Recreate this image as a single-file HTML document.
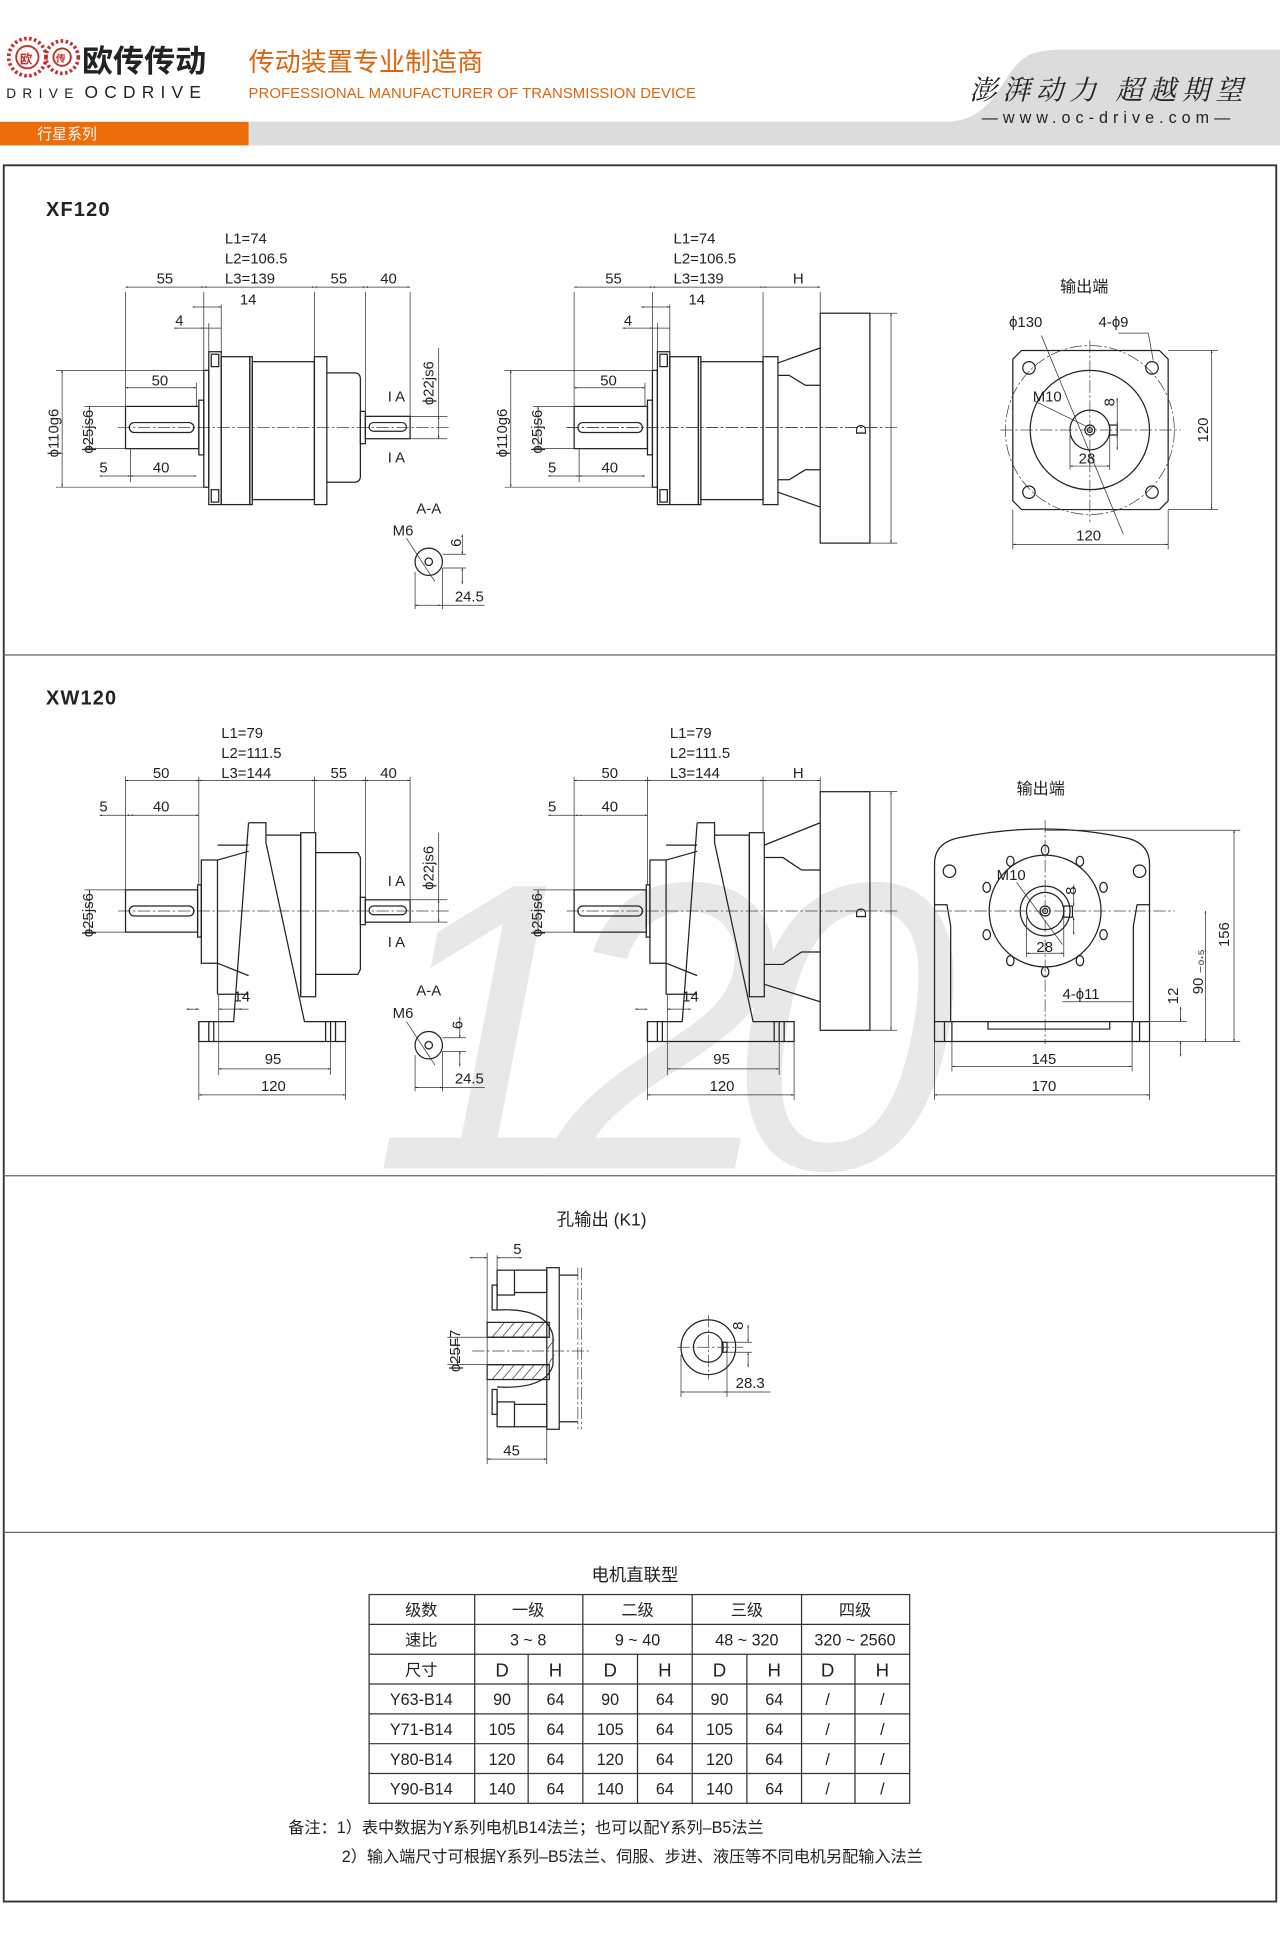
<!DOCTYPE html>
<html><head><meta charset="utf-8"><style>
html,body{margin:0;padding:0;background:#fff;}
svg{display:block;}
text{font-family:"Liberation Sans","Noto Sans CJK SC",sans-serif;fill:#222;}
.d{stroke:#222;stroke-width:1;fill:none;}
.t{stroke:#333;stroke-width:.6;fill:none;}
.c{stroke:#444;stroke-width:.6;fill:none;stroke-dasharray:10 2 2 2;}
.a{stroke:#333;stroke-width:.6;fill:none;marker-start:url(#ar);marker-end:url(#ar);}
.s{font-size:12px;}
</style></head><body>
<svg width="1280" height="1950" viewBox="0 0 1030 1569" preserveAspectRatio="none" xmlns="http://www.w3.org/2000/svg">
<defs>
<marker id="ar" viewBox="0 0 10 10" refX="5" refY="5" markerWidth="7" markerHeight="7" orient="auto-start-reverse"><path d="M0,3.5 L5,5 L0,6.5 Z" fill="#222"/></marker>
</defs>
<!-- header -->
<path d="M200,98 L760,98 C790,98 800,78 812,60 C822,45 832,40 852,40 L1030,40 L1030,117 L200,117 Z" fill="#dcdcdc"/>
<rect x="0" y="98" width="200" height="19" fill="#ec6d0a"/>
<text x="30" y="112" font-size="12" style="fill:#fff">行星系列</text>
<circle cx="22" cy="46" r="15" fill="none" stroke="#c0302a" stroke-width="3" stroke-dasharray="2 2"/>
<circle cx="22" cy="46" r="9" fill="#fff" stroke="#c0302a" stroke-width="1.5"/>
<text x="16" y="51" font-size="10" style="fill:#c0302a;font-weight:bold">欧</text>
<circle cx="50" cy="46" r="13" fill="none" stroke="#c0302a" stroke-width="3" stroke-dasharray="2 2"/>
<circle cx="50" cy="46" r="7" fill="#fff" stroke="#c0302a" stroke-width="1.5"/>
<text x="45" y="50" font-size="8" style="fill:#c0302a;font-weight:bold">传</text>
<text x="66" y="58" font-size="25" font-weight="bold" style="fill:#222">欧传传动</text>
<text x="5" y="79" font-size="11" textLength="54">DRIVE</text>
<text x="68" y="79" font-size="14" letter-spacing="5">OCDRIVE</text>
<text x="200" y="57" font-size="21" style="fill:#d9650e">传动装置专业制造商</text>
<text x="200" y="79" font-size="12" textLength="360" style="fill:#d9650e">PROFESSIONAL MANUFACTURER OF TRANSMISSION DEVICE</text>
<text x="780" y="80" font-size="22" font-style="italic" style="font-family:'Noto Serif CJK SC',serif" textLength="220">澎湃动力 超越期望</text>
<text x="790" y="99" font-size="13" textLength="200">—www.oc-drive.com—</text>

<!-- frame -->
<rect x="3" y="133" width="1024" height="1397" fill="none" stroke="#333" stroke-width="1.5"/>
<line x1="3" y1="527" x2="1027" y2="527" stroke="#666" stroke-width="1"/>
<line x1="3" y1="946" x2="1027" y2="946" stroke="#666" stroke-width="1"/>
<line x1="3" y1="1233" x2="1027" y2="1233" stroke="#666" stroke-width="1"/>

<!-- watermark -->
<text x="300" y="940" font-size="330" font-style="italic" textLength="470" style="fill:#e8e8e8">120</text>

<!-- XF120 -->
<text x="37" y="174" font-size="16" font-weight="bold" letter-spacing="1">XF120</text>
<g id="xfin">
<line class="c" x1="95" y1="344" x2="362" y2="344"/>
<rect class="d" x="101" y="327" width="59" height="34"/>
<rect class="d" x="104" y="340" width="52" height="8" rx="4"/>
<rect class="d" x="160" y="322" width="4" height="44"/>
<rect class="d" x="164" y="298" width="4" height="94"/>
<rect class="d" x="168" y="283" width="10" height="123"/>
<rect class="d" x="170" y="285" width="6" height="10"/>
<rect class="d" x="170" y="394" width="6" height="10"/>
<rect class="d" x="178" y="287" width="23" height="119"/>
<rect class="d" x="201" y="287" width="2" height="119"/>
<rect class="d" x="203" y="291" width="50" height="111"/>
</g>
<rect class="d" x="253" y="287" width="10" height="119"/>
<path class="d" d="M263,300 L285,300 Q290,300 290,305 L290,383 Q290,388 285,388 L263,388"/>
<rect class="d" x="290" y="331" width="4" height="26"/>
<rect class="d" x="294" y="335" width="36" height="18"/>
<rect class="d" x="297" y="340" width="30" height="7" rx="3.5"/>
<g class="t">
<line x1="101" y1="235" x2="101" y2="327"/><line x1="164" y1="235" x2="164" y2="298"/><line x1="178" y1="245" x2="178" y2="283"/><line x1="168" y1="260" x2="168" y2="283"/>
<line x1="253" y1="235" x2="253" y2="287"/><line x1="294" y1="235" x2="294" y2="331"/><line x1="330" y1="235" x2="330" y2="335"/>
<line x1="45" y1="298" x2="164" y2="298"/><line x1="45" y1="392" x2="164" y2="392"/>
<line x1="68" y1="327" x2="101" y2="327"/><line x1="68" y1="361" x2="101" y2="361"/>
<line x1="330" y1="335" x2="360" y2="335"/><line x1="330" y1="353" x2="360" y2="353"/>
<line x1="105" y1="361" x2="105" y2="388"/><line x1="158" y1="308" x2="158" y2="327"/>
</g>
<line class="a" x1="101" y1="231" x2="164" y2="231"/><line class="a" x1="164" y1="231" x2="253" y2="231"/><line class="a" x1="253" y1="231" x2="294" y2="231"/><line class="a" x1="294" y1="231" x2="330" y2="231"/>
<line class="a" x1="155" y1="247" x2="178" y2="247"/>
<line class="a" x1="140" y1="264" x2="164" y2="264"/><line class="t" x1="164" y1="264" x2="178" y2="264"/>
<line class="a" x1="50" y1="298" x2="50" y2="392"/>
<line class="a" x1="72" y1="327" x2="72" y2="361"/>
<line class="a" x1="101" y1="312" x2="158" y2="312"/>
<line class="a" x1="80" y1="383" x2="105" y2="383"/><line class="a" x1="105" y1="383" x2="158" y2="383"/>
<line class="a" x1="353" y1="335" x2="353" y2="353"/><line class="t" x1="353" y1="280" x2="353" y2="335"/>
<text class="s" x="181" y="196">L1=74</text><text class="s" x="181" y="212">L2=106.5</text><text class="s" x="181" y="228">L3=139</text>
<text class="s" x="126" y="228">55</text><text class="s" x="266" y="228">55</text><text class="s" x="306" y="228">40</text>
<text class="s" x="193" y="245">14</text><text class="s" x="141" y="262">4</text>
<text class="s" x="122" y="310">50</text><text class="s" x="80" y="380">5</text><text class="s" x="123" y="380">40</text>
<text class="s" transform="translate(47,368) rotate(-90)">ϕ110g6</text>
<text class="s" transform="translate(75,365) rotate(-90)">ϕ25js6</text>
<text class="s" transform="translate(349,326) rotate(-90)">ϕ22js6</text>
<text class="s" x="312" y="323">I A</text><text class="s" x="312" y="372">I A</text>
<text class="s" x="335" y="413">A-A</text><text class="s" x="316" y="431">M6</text>
<circle class="d" cx="345" cy="452" r="11"/><circle class="d" cx="345" cy="452" r="3"/>
<line class="t" x1="327" y1="433" x2="350" y2="468"/>
<line class="t" x1="334" y1="460" x2="334" y2="490"/><line class="t" x1="356" y1="446" x2="375" y2="446"/><line class="t" x1="356" y1="457" x2="375" y2="457"/>
<line class="a" x1="372" y1="430" x2="372" y2="446"/><line class="a" x1="372" y1="457" x2="372" y2="470"/>
<line class="a" x1="334" y1="487" x2="355" y2="487"/><line class="t" x1="355" y1="487" x2="390" y2="487"/><line class="t" x1="356" y1="457" x2="356" y2="490"/>
<text class="s" transform="translate(371,440) rotate(-90)">6</text>
<text class="s" x="366" y="484">24.5</text>

<!-- XF120 right drawing -->
<use href="#xfin" transform="translate(361,0)"/>
<rect class="d" x="614" y="287" width="12" height="119"/>
<path class="d" d="M626,292 L660,280 M626,302 L635,302 L648,310 L660,310 M626,386 L635,386 L648,378 L660,378 M626,396 L660,408"/>
<rect class="d" x="660" y="252" width="40" height="185"/>
<g class="t">
<line x1="462" y1="235" x2="462" y2="327"/><line x1="525" y1="235" x2="525" y2="298"/><line x1="539" y1="245" x2="539" y2="283"/><line x1="529" y1="260" x2="529" y2="283"/>
<line x1="614" y1="235" x2="614" y2="287"/><line x1="660" y1="235" x2="660" y2="252"/>
<line x1="406" y1="298" x2="525" y2="298"/><line x1="406" y1="392" x2="525" y2="392"/>
<line x1="429" y1="327" x2="462" y2="327"/><line x1="429" y1="361" x2="462" y2="361"/>
<line x1="466" y1="361" x2="466" y2="388"/><line x1="519" y1="308" x2="519" y2="327"/>
<line x1="700" y1="252" x2="722" y2="252"/><line x1="700" y1="437" x2="722" y2="437"/>
</g>
<line class="c" x1="456" y1="344" x2="712" y2="344"/>
<line class="a" x1="462" y1="231" x2="525" y2="231"/><line class="a" x1="525" y1="231" x2="614" y2="231"/><line class="a" x1="614" y1="231" x2="660" y2="231"/>
<line class="a" x1="516" y1="247" x2="539" y2="247"/>
<line class="a" x1="501" y1="264" x2="525" y2="264"/><line class="t" x1="525" y1="264" x2="539" y2="264"/>
<line class="a" x1="411" y1="298" x2="411" y2="392"/>
<line class="a" x1="433" y1="327" x2="433" y2="361"/>
<line class="a" x1="462" y1="312" x2="519" y2="312"/>
<line class="a" x1="441" y1="383" x2="466" y2="383"/><line class="a" x1="466" y1="383" x2="519" y2="383"/>
<line class="a" x1="717" y1="252" x2="717" y2="437"/>
<text class="s" x="542" y="196">L1=74</text><text class="s" x="542" y="212">L2=106.5</text><text class="s" x="542" y="228">L3=139</text>
<text class="s" x="487" y="228">55</text><text class="s" x="638" y="228">H</text>
<text class="s" x="554" y="245">14</text><text class="s" x="502" y="262">4</text>
<text class="s" x="483" y="310">50</text><text class="s" x="441" y="380">5</text><text class="s" x="484" y="380">40</text>
<text class="s" transform="translate(408,368) rotate(-90)">ϕ110g6</text>
<text class="s" transform="translate(436,365) rotate(-90)">ϕ25js6</text>
<text class="s" transform="translate(697,350) rotate(-90)">D</text>

<!-- XF output end -->
<text x="853" y="235" font-size="13">输出端</text>
<path class="d" d="M822,282 L933,282 L940,289 L940,403 L933,410 L822,410 L815,403 L815,289 Z"/>
<circle class="c" cx="877" cy="346" r="68"/>
<circle class="d" cx="877" cy="346" r="48"/>
<circle class="d" cx="877" cy="346" r="16"/>
<circle class="d" cx="877" cy="346" r="4"/><circle class="d" cx="877" cy="346" r="2"/>
<rect class="d" x="893" y="342" width="6" height="8"/>
<circle class="d" cx="828" cy="296" r="5"/><circle class="d" cx="927" cy="296" r="5"/><circle class="d" cx="828" cy="396" r="5"/><circle class="d" cx="927" cy="396" r="5"/>
<line class="c" x1="805" y1="346" x2="950" y2="346"/><line class="c" x1="877" y1="274" x2="877" y2="420"/>
<line class="t" x1="838" y1="270" x2="904" y2="430"/>
<line class="t" x1="900" y1="268" x2="924" y2="268"/><line class="t" x1="924" y1="268" x2="928" y2="290"/>
<line class="t" x1="833" y1="323" x2="874" y2="343"/>
<line class="a" x1="899" y1="320" x2="899" y2="342"/><line class="a" x1="899" y1="350" x2="899" y2="362"/>
<line class="t" x1="861" y1="350" x2="861" y2="378"/><line class="t" x1="893" y1="350" x2="893" y2="378"/>
<line class="a" x1="861" y1="375" x2="893" y2="375"/>
<line class="t" x1="940" y1="282" x2="980" y2="282"/><line class="t" x1="940" y1="410" x2="980" y2="410"/>
<line class="a" x1="975" y1="282" x2="975" y2="410"/>
<line class="t" x1="815" y1="410" x2="815" y2="442"/><line class="t" x1="940" y1="410" x2="940" y2="442"/>
<line class="a" x1="815" y1="438" x2="940" y2="438"/>
<text class="s" x="812" y="263">ϕ130</text><text class="s" x="884" y="263">4-ϕ9</text>
<text class="s" x="831" y="323">M10</text><text class="s" transform="translate(897,327) rotate(-90)">8</text>
<text class="s" x="868" y="373">28</text>
<text class="s" x="866" y="435">120</text><text class="s" transform="translate(972,356) rotate(-90)">120</text>

<!-- XW120 -->
<text x="37" y="567" font-size="16" font-weight="bold" letter-spacing="1">XW120</text>
<g id="xwin">
<line class="c" x1="95" y1="733" x2="362" y2="733"/>
<rect class="d" x="101" y="716" width="58" height="34"/>
<rect class="d" x="104" y="729" width="52" height="8" rx="4"/>
<rect class="d" x="159" y="712" width="3" height="42"/>
<path class="d" d="M162,692 L175,692 L175,775 L162,775 Z"/>
<path class="d" d="M175,692 L200,685 M175,775 L200,785"/>
<path class="d" d="M200,662 L214,662 L214,678 L245,822 L262,822 L262,838 L160,838 L160,822 L188,822 L200,662"/>
<path class="d" d="M214,672 L242,672 L242,800 M175,680 L200,680"/>
<line class="d" x1="175" y1="775" x2="175" y2="800"/><line class="d" x1="175" y1="800" x2="200" y2="800"/>
<line class="d" x1="168" y1="822" x2="168" y2="838"/><line class="d" x1="172" y1="822" x2="172" y2="838"/>
</g>
<line class="d" x1="160" y1="822" x2="160" y2="838"/>
<rect class="d" x="242" y="670" width="12" height="132"/>
<path class="d" d="M254,686 L288,686 L290,690 L290,780 L288,784 L254,784"/>
<line class="d" x1="266" y1="822" x2="266" y2="838"/><line class="d" x1="270" y1="822" x2="270" y2="838"/>
<path class="d" d="M262,822 L278,822 L278,838 L262,838"/>
<rect class="d" x="290" y="722" width="4" height="22"/>
<rect class="d" x="294" y="724" width="36" height="18"/>
<rect class="d" x="297" y="729" width="30" height="7" rx="3.5"/>
<g class="t">
<line x1="101" y1="625" x2="101" y2="716"/><line x1="160" y1="625" x2="160" y2="712"/><line x1="253" y1="625" x2="253" y2="670"/><line x1="294" y1="625" x2="294" y2="722"/><line x1="330" y1="625" x2="330" y2="724"/>
<line x1="330" y1="724" x2="360" y2="724"/><line x1="330" y1="742" x2="360" y2="742"/>
<line x1="68" y1="716" x2="101" y2="716"/><line x1="68" y1="750" x2="101" y2="750"/>
<line x1="176" y1="800" x2="176" y2="865"/><line x1="266" y1="838" x2="266" y2="865"/>
<line x1="160" y1="838" x2="160" y2="885"/><line x1="278" y1="838" x2="278" y2="885"/>
<line x1="188" y1="812" x2="200" y2="812"/>
</g>
<line class="a" x1="101" y1="628" x2="160" y2="628"/><line class="a" x1="160" y1="628" x2="253" y2="628"/><line class="a" x1="253" y1="628" x2="294" y2="628"/><line class="a" x1="294" y1="628" x2="330" y2="628"/>
<line class="a" x1="80" y1="656" x2="105" y2="656"/><line class="a" x1="105" y1="656" x2="160" y2="656"/>
<line class="a" x1="72" y1="716" x2="72" y2="750"/>
<line class="a" x1="353" y1="724" x2="353" y2="742"/><line class="t" x1="353" y1="670" x2="353" y2="724"/>
<line class="a" x1="150" y1="812" x2="160" y2="812"/><line class="a" x1="176" y1="812" x2="195" y2="812"/>
<line class="a" x1="176" y1="860" x2="266" y2="860"/>
<line class="a" x1="160" y1="881" x2="278" y2="881"/>
<text class="s" x="178" y="594">L1=79</text><text class="s" x="178" y="610">L2=111.5</text><text class="s" x="178" y="626">L3=144</text>
<text class="s" x="123" y="626">50</text><text class="s" x="266" y="626">55</text><text class="s" x="306" y="626">40</text>
<text class="s" x="80" y="653">5</text><text class="s" x="123" y="653">40</text>
<text class="s" transform="translate(75,754) rotate(-90)">ϕ25js6</text>
<text class="s" transform="translate(349,716) rotate(-90)">ϕ22js6</text>
<text class="s" x="312" y="713">I A</text><text class="s" x="312" y="762">I A</text>
<text class="s" x="188" y="806">14</text>
<text class="s" x="213" y="856">95</text><text class="s" x="210" y="878">120</text>
<text class="s" x="335" y="801">A-A</text><text class="s" x="316" y="819">M6</text>
<circle class="d" cx="345" cy="841" r="11"/><circle class="d" cx="345" cy="841" r="3"/>
<line class="t" x1="327" y1="822" x2="350" y2="857"/>
<line class="t" x1="334" y1="849" x2="334" y2="878"/><line class="t" x1="356" y1="835" x2="375" y2="835"/><line class="t" x1="356" y1="846" x2="375" y2="846"/>
<line class="a" x1="370" y1="818" x2="370" y2="835"/><line class="a" x1="370" y1="846" x2="370" y2="858"/>
<line class="a" x1="334" y1="875" x2="356" y2="875"/><line class="t" x1="356" y1="875" x2="390" y2="875"/><line class="t" x1="356" y1="846" x2="356" y2="878"/>
<text class="s" transform="translate(372,828) rotate(-90)">6</text>
<text class="s" x="366" y="872">24.5</text>

<!-- XW right -->
<use href="#xwin" transform="translate(361,0)"/>
<line class="d" x1="521" y1="822" x2="521" y2="838"/>
<rect class="d" x="603" y="670" width="12" height="132"/>
<path class="d" d="M615,680 L660,662 M615,690 L630,690 L645,700 L660,700 M615,776 L630,776 L645,766 L660,766 M615,792 L660,806"/>
<path class="d" d="M623,822 L639,822 L639,838 L623,838"/>
<line class="d" x1="627" y1="822" x2="627" y2="838"/><line class="d" x1="631" y1="822" x2="631" y2="838"/>
<rect class="d" x="660" y="637" width="40" height="192"/>
<g class="t">
<line x1="462" y1="625" x2="462" y2="716"/><line x1="521" y1="625" x2="521" y2="712"/><line x1="614" y1="625" x2="614" y2="670"/><line x1="660" y1="625" x2="660" y2="637"/>
<line x1="429" y1="716" x2="462" y2="716"/><line x1="429" y1="750" x2="462" y2="750"/>
<line x1="537" y1="800" x2="537" y2="865"/><line x1="627" y1="838" x2="627" y2="865"/>
<line x1="521" y1="838" x2="521" y2="885"/><line x1="639" y1="838" x2="639" y2="885"/>
<line x1="700" y1="637" x2="722" y2="637"/><line x1="700" y1="829" x2="722" y2="829"/>
</g>
<line class="a" x1="462" y1="628" x2="521" y2="628"/><line class="a" x1="521" y1="628" x2="614" y2="628"/><line class="a" x1="614" y1="628" x2="660" y2="628"/>
<line class="a" x1="441" y1="656" x2="466" y2="656"/><line class="a" x1="466" y1="656" x2="521" y2="656"/>
<line class="a" x1="433" y1="716" x2="433" y2="750"/>
<line class="a" x1="511" y1="812" x2="521" y2="812"/><line class="a" x1="537" y1="812" x2="556" y2="812"/>
<line class="a" x1="537" y1="860" x2="627" y2="860"/>
<line class="a" x1="521" y1="881" x2="639" y2="881"/>
<line class="a" x1="717" y1="637" x2="717" y2="829"/>
<text class="s" x="539" y="594">L1=79</text><text class="s" x="539" y="610">L2=111.5</text><text class="s" x="539" y="626">L3=144</text>
<text class="s" x="484" y="626">50</text><text class="s" x="638" y="626">H</text>
<text class="s" x="441" y="653">5</text><text class="s" x="484" y="653">40</text>
<text class="s" transform="translate(436,754) rotate(-90)">ϕ25js6</text>
<text class="s" x="549" y="806">14</text>
<text class="s" x="574" y="856">95</text><text class="s" x="571" y="878">120</text>
<text class="s" transform="translate(697,739) rotate(-90)">D</text>

<!-- XW output end -->
<text x="818" y="639" font-size="13">输出端</text>
<path class="d" d="M752,838 L752,695 Q752,678 772,674 Q840,660 905,674 Q925,678 925,695 L925,838 Z"/>
<line class="d" x1="752" y1="822" x2="925" y2="822"/>
<path class="d" d="M752,728 L762,728 L765,745 L765,822 M925,728 L915,728 L912,745 L912,822"/>
<path class="d" d="M795,822 L795,828 L893,828 L893,822"/>
<line class="d" x1="760" y1="822" x2="760" y2="838"/><line class="d" x1="766" y1="822" x2="766" y2="838"/>
<line class="d" x1="911" y1="822" x2="911" y2="838"/><line class="d" x1="917" y1="822" x2="917" y2="838"/>
<circle class="d" cx="841" cy="733" r="45"/>
<circle class="d" cx="841" cy="733" r="20"/><circle class="d" cx="841" cy="733" r="15"/>
<circle class="d" cx="841" cy="733" r="4"/><circle class="d" cx="841" cy="733" r="2"/>
<rect class="d" x="856" y="729" width="7" height="9"/>
<g class="d">
<circle cx="764" cy="701" r="5"/><circle cx="917" cy="701" r="5"/>
<ellipse cx="841" cy="684" rx="3" ry="4"/><ellipse cx="841" cy="782" rx="3" ry="4"/>
<ellipse cx="813" cy="693" rx="3" ry="4"/><ellipse cx="869" cy="693" rx="3" ry="4"/>
<ellipse cx="813" cy="773" rx="3" ry="4"/><ellipse cx="869" cy="773" rx="3" ry="4"/>
<ellipse cx="794" cy="714" rx="3" ry="4"/><ellipse cx="888" cy="714" rx="3" ry="4"/>
<ellipse cx="794" cy="752" rx="3" ry="4"/><ellipse cx="888" cy="752" rx="3" ry="4"/>
</g>
<line class="c" x1="752" y1="733" x2="945" y2="733"/><line class="c" x1="841" y1="660" x2="841" y2="840"/>
<line class="t" x1="818" y1="710" x2="855" y2="760"/>
<line class="a" x1="864" y1="712" x2="864" y2="729"/><line class="a" x1="864" y1="738" x2="864" y2="752"/>
<line class="t" x1="826" y1="738" x2="826" y2="770"/><line class="t" x1="856" y1="738" x2="856" y2="770"/>
<line class="a" x1="826" y1="767" x2="856" y2="767"/>
<line class="t" x1="841" y1="668" x2="998" y2="668"/><line class="t" x1="925" y1="838" x2="998" y2="838"/>
<line class="a" x1="993" y1="668" x2="993" y2="838"/>
<line class="a" x1="970" y1="733" x2="970" y2="838"/>
<line class="a" x1="950" y1="810" x2="950" y2="822"/><line class="a" x1="950" y1="838" x2="950" y2="850"/>
<line class="t" x1="925" y1="822" x2="955" y2="822"/>
<line class="t" x1="855" y1="806" x2="911" y2="806"/>
<line class="t" x1="766" y1="838" x2="766" y2="862"/><line class="t" x1="911" y1="838" x2="911" y2="862"/>
<line class="a" x1="766" y1="858" x2="911" y2="858"/>
<line class="t" x1="752" y1="838" x2="752" y2="885"/><line class="t" x1="925" y1="838" x2="925" y2="885"/>
<line class="a" x1="752" y1="881" x2="925" y2="881"/>
<text class="s" x="802" y="708">M10</text>
<text class="s" transform="translate(866,720) rotate(-90)">8</text>
<text class="s" x="834" y="766">28</text>
<text class="s" x="855" y="804">4-ϕ11</text>
<text class="s" transform="translate(948,808) rotate(-90)">12</text>
<text class="s" transform="translate(968,800) rotate(-90)">90 ₋₀.₅</text>
<text class="s" transform="translate(989,762) rotate(-90)">156</text>
<text class="s" x="830" y="856">145</text><text class="s" x="830" y="878">170</text>

<!-- K1 -->
<text x="448" y="986" font-size="14">孔输出 (K1)</text>
<g class="d">
<rect x="400" y="1022" width="14" height="20"/><rect x="400" y="1128" width="14" height="20"/>
<rect x="396" y="1034" width="4" height="20"/><rect x="396" y="1118" width="4" height="20"/>
<path d="M414,1022 L440,1022 L440,1040 L414,1040 M414,1130 L440,1130 L440,1148 L414,1148"/>
<rect x="440" y="1020" width="10" height="130"/>
<path d="M450,1026 L465,1026 M450,1144 L465,1144"/>
<path d="M400,1054 Q440,1052 445,1075 L445,1098 Q440,1118 400,1116"/>
<rect x="392" y="1064" width="50" height="12" fill="url(#h)"/>
<rect x="392" y="1098" width="50" height="12"/>
<line x1="392" y1="1076" x2="440" y2="1076"/><line x1="392" y1="1098" x2="440" y2="1098"/>
</g>
<g stroke="#444" stroke-width=".6">
<path d="M396,1076 L406,1064 M404,1076 L414,1064 M412,1076 L422,1064 M420,1076 L430,1064 M428,1076 L438,1064 M396,1110 L406,1098 M404,1110 L414,1098 M412,1110 L422,1098 M420,1110 L430,1098 M428,1110 L438,1098 M440,1100 L446,1090 M440,1086 L446,1078"/>
</g>
<line class="c" x1="465" y1="1020" x2="465" y2="1150"/><line class="c" x1="468" y1="1020" x2="468" y2="1150"/>
<line class="c" x1="380" y1="1087" x2="475" y2="1087"/>
<g class="t">
<line x1="392" y1="1008" x2="392" y2="1178"/><line x1="400" y1="1010" x2="400" y2="1022"/><line x1="440" y1="1110" x2="440" y2="1178"/>
<line x1="360" y1="1076" x2="392" y2="1076"/><line x1="360" y1="1098" x2="392" y2="1098"/>
</g>
<line class="a" x1="378" y1="1012" x2="392" y2="1012"/><line class="a" x1="400" y1="1012" x2="420" y2="1012"/>
<line class="a" x1="368" y1="1076" x2="368" y2="1098"/>
<line class="a" x1="392" y1="1174" x2="440" y2="1174"/>
<text class="s" x="413" y="1009">5</text><text class="s" x="405" y="1171">45</text>
<text class="s" transform="translate(370,1104) rotate(-90)">ϕ25F7</text>
<circle class="d" cx="570" cy="1084" r="22"/><circle class="d" cx="570" cy="1084" r="12"/>
<rect class="d" x="581" y="1080" width="4" height="8"/>
<line class="c" x1="545" y1="1084" x2="598" y2="1084"/><line class="c" x1="570" y1="1058" x2="570" y2="1110"/>
<line class="t" x1="548" y1="1090" x2="548" y2="1124"/><line class="t" x1="585" y1="1088" x2="585" y2="1124"/>
<line class="a" x1="548" y1="1120" x2="585" y2="1120"/><line class="t" x1="585" y1="1120" x2="620" y2="1120"/>
<line class="t" x1="585" y1="1080" x2="605" y2="1080"/><line class="t" x1="585" y1="1088" x2="605" y2="1088"/>
<line class="a" x1="602" y1="1066" x2="602" y2="1080"/><line class="a" x1="602" y1="1088" x2="602" y2="1100"/>
<text class="s" transform="translate(598,1070) rotate(-90)">8</text>
<text class="s" x="592" y="1117">28.3</text>

<!-- table -->
<text x="476" y="1272" font-size="14">电机直联型</text>
<g stroke="#333" stroke-width="1" fill="none">
<rect x="297" y="1283" width="435" height="168"/>
<line x1="297" y1="1307" x2="732" y2="1307"/><line x1="297" y1="1331" x2="732" y2="1331"/>
<line x1="297" y1="1355" x2="732" y2="1355"/><line x1="297" y1="1379" x2="732" y2="1379"/>
<line x1="297" y1="1403" x2="732" y2="1403"/><line x1="297" y1="1427" x2="732" y2="1427"/>
<line x1="382" y1="1283" x2="382" y2="1451"/><line x1="469" y1="1283" x2="469" y2="1451"/>
<line x1="557" y1="1283" x2="557" y2="1451"/><line x1="645" y1="1283" x2="645" y2="1451"/>
<line x1="425" y1="1331" x2="425" y2="1451"/><line x1="513" y1="1331" x2="513" y2="1451"/>
<line x1="601" y1="1331" x2="601" y2="1451"/><line x1="688" y1="1331" x2="688" y2="1451"/>
</g>
<g font-size="13" text-anchor="middle">
<text x="339" y="1300">级数</text><text x="425" y="1300">一级</text><text x="513" y="1300">二级</text><text x="601" y="1300">三级</text><text x="688" y="1300">四级</text>
<text x="339" y="1324">速比</text><text x="425" y="1324">3 ~ 8</text><text x="513" y="1324">9 ~ 40</text><text x="601" y="1324">48 ~ 320</text><text x="688" y="1324">320 ~ 2560</text>
<text x="339" y="1348">尺寸</text>
<text x="404" y="1349" font-size="15">D</text><text x="447" y="1349" font-size="15">H</text><text x="491" y="1349" font-size="15">D</text><text x="535" y="1349" font-size="15">H</text><text x="579" y="1349" font-size="15">D</text><text x="623" y="1349" font-size="15">H</text><text x="666" y="1349" font-size="15">D</text><text x="710" y="1349" font-size="15">H</text>
<text x="339" y="1372">Y63-B14</text><text x="404" y="1372">90</text><text x="447" y="1372">64</text><text x="491" y="1372">90</text><text x="535" y="1372">64</text><text x="579" y="1372">90</text><text x="623" y="1372">64</text><text x="666" y="1372">/</text><text x="710" y="1372">/</text>
<text x="339" y="1396">Y71-B14</text><text x="404" y="1396">105</text><text x="447" y="1396">64</text><text x="491" y="1396">105</text><text x="535" y="1396">64</text><text x="579" y="1396">105</text><text x="623" y="1396">64</text><text x="666" y="1396">/</text><text x="710" y="1396">/</text>
<text x="339" y="1420">Y80-B14</text><text x="404" y="1420">120</text><text x="447" y="1420">64</text><text x="491" y="1420">120</text><text x="535" y="1420">64</text><text x="579" y="1420">120</text><text x="623" y="1420">64</text><text x="666" y="1420">/</text><text x="710" y="1420">/</text>
<text x="339" y="1444">Y90-B14</text><text x="404" y="1444">140</text><text x="447" y="1444">64</text><text x="491" y="1444">140</text><text x="535" y="1444">64</text><text x="579" y="1444">140</text><text x="623" y="1444">64</text><text x="666" y="1444">/</text><text x="710" y="1444">/</text>
</g>
<text x="232" y="1475" font-size="13">备注：1）表中数据为Y系列电机B14法兰；也可以配Y系列–B5法兰</text>
<text x="275" y="1498" font-size="13">2）输入端尺寸可根据Y系列–B5法兰、伺服、步进、液压等不同电机另配输入法兰</text>
</svg>
</body></html>
